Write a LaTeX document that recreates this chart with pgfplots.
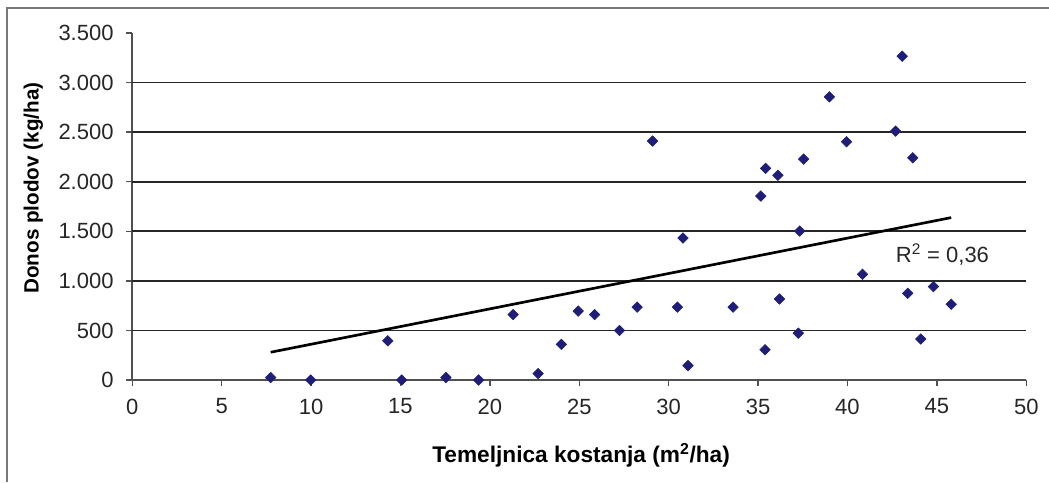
\documentclass[border=0pt]{standalone}
\usepackage{fontspec}
\setmainfont{Liberation Sans}
\usepackage{pgfplots}
\pgfplotsset{compat=1.18}
\definecolor{mk}{RGB}{30,30,120}
\definecolor{frm}{RGB}{120,120,120}
\definecolor{axgray}{RGB}{80,80,80}
\begin{document}
\begin{tikzpicture}
\useasboundingbox (0,0) rectangle (786.75pt,361.5pt);
% frame of the chart area (top and left only, rest is cropped)
\draw[frm, line width=0.9pt] (5.25pt,0) -- (5.25pt,355.5pt) -- (786.75pt,355.5pt);
\begin{axis}[
    at={(99.2pt,76.5pt)}, anchor=south west,
    scale only axis,
    width=670.5pt, height=260.25pt,
    xmin=0, xmax=50, ymin=0, ymax=3500,
    xtick={0,5,...,50},
    ytick={0,500,...,3500},
    axis lines*=left,
    axis line style={axgray, line width=1.3pt},
    tick align=outside,
    major tick length=4.5pt,
    tick style={axgray, line width=1pt},
    scaled y ticks=false,
    /pgf/number format/.cd, 1000 sep={.}, assume math mode=true,
    /pgfplots/.cd,
    ticklabel style={font=\fontsize{16.5}{18}\selectfont, text=black!85},
    xticklabel style={yshift=-6pt},
    yticklabel style={xshift=-6pt},
    extra y ticks={500,1000,...,3000},
    extra y tick labels={},
    extra y tick style={grid=major, major tick length=0pt,
        major grid style={black!85, line width=1.3pt}},
    xlabel={Temeljnica kostanja (m\textsuperscript{2}/ha)},
    ylabel={Donos plodov (kg/ha)},
    xlabel style={font=\fontsize{17}{20}\selectfont\bfseries,
        at={(axis description cs:0.502,-0.239)}, anchor=base},
    ylabel style={font=\fontsize{15.5}{18}\selectfont\bfseries,
        at={(axis description cs:-0.1107,0.553)}, anchor=center},
    clip=false,
]
% scatter of yields
\addplot[only marks, mark=square*, mark size=2.8pt,
    mark options={rotate=45, fill=mk, draw=mk}] coordinates {
    (7.74, 25) (9.98, 0) (14.29, 395) (15.07, 0) (17.54, 25) (19.37, 0)
    (21.3, 660) (22.7, 65) (24.0, 360) (24.94, 695) (25.86, 660)
    (27.25, 500) (28.24, 735) (29.1, 2410) (30.49, 735) (30.8, 1432)
    (31.08, 145) (33.6, 735) (35.15, 1855) (35.39, 305) (35.42, 2135)
    (36.11, 2065) (36.2, 817) (37.25, 472) (37.33, 1502) (37.55, 2228)
    (38.99, 2856) (39.95, 2403) (40.84, 1066) (42.69, 2510) (43.06, 3266)
    (43.37, 874) (43.65, 2241) (44.1, 413) (44.81, 942) (45.8, 764)
};
% linear trend
\addplot[black, line width=2pt] coordinates {(7.74, 280) (45.8, 1638)};
\node[anchor=west, font=\fontsize{16.5}{18}\selectfont, text=black!85]
    at (axis cs:42.45,1265) {R\textsuperscript{2} = 0,36};
\end{axis}
\end{tikzpicture}
\end{document}
